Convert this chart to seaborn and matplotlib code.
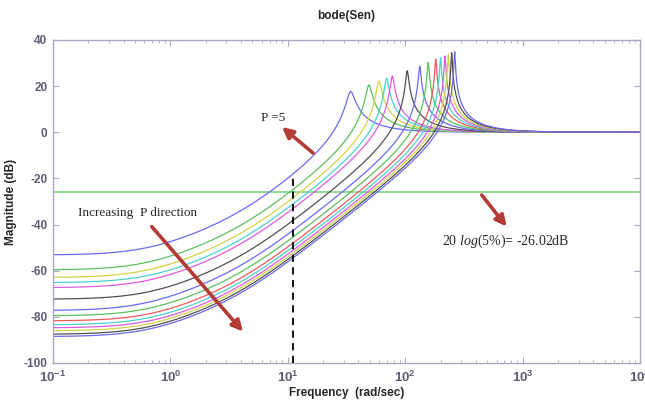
import numpy as np
import pandas as pd
import matplotlib
matplotlib.use("Agg")
import matplotlib.pyplot as plt
import seaborn as sns

# ---- data ----
peak_freq = [34.2, 49.0, 59.7, 69.4, 77.6, 104.0, 133.0, 157.0, 182.0, 200.0, 218.0, 233.0, 249.0, 264.0]
peak_db = [17.6, 20.5, 22.2, 23.4, 24.4, 26.7, 28.7, 30.3, 31.8, 32.5, 33.1, 33.8, 34.5, 34.9]
floor_db = [-53.2, -59.7, -63.0, -65.2, -67.4, -72.4, -77.3, -79.6, -81.8, -83.5, -84.8, -86.1, -87.6, -88.6]
curve_colors = ['#6a6aee', '#5cbf5c', '#d2d24a', '#4ccfcf', '#de5ade', '#505050', '#6a6aee',
                '#5cbf5c', '#ec5a5a', '#4ccfcf', '#de5ade', '#d2d24a', '#505050', '#6a6aee']
spec_db = -26.02
dash_freq = 11.0
y_ticks = [-100, -80, -60, -40, -20, 0, 20, 40]
x_ticks = [1e-1, 1e0, 1e1, 1e2, 1e3, 1e4]
x_tick_labels = [r'$\mathbf{10^{-1}}$', r'$\mathbf{10^{0}}$', r'$\mathbf{10^{1}}$',
                 r'$\mathbf{10^{2}}$', r'$\mathbf{10^{3}}$', r'$\mathbf{10^{4}}$']

sns.set_style("ticks")
plt.rcParams['font.family'] = ['Liberation Sans', 'DejaVu Sans']
plt.rcParams['mathtext.fontset'] = 'custom'
plt.rcParams['mathtext.bf'] = 'Liberation Sans:bold'
plt.rcParams['mathtext.rm'] = 'Liberation Serif'
plt.rcParams['mathtext.it'] = 'Liberation Serif:italic'

# second-order sensitivity shape built from the read-off floor / peak values
w = np.union1d(np.logspace(-1, 4, 8000), peak_freq)
a_num = 4.75


def sens_db(wv, wn, pk, fl):
    b = 10 ** (fl / 20) * wn ** 2
    s = 1j * wv
    num = s ** 2 + a_num * s + b
    nwn = abs((1j * wn) ** 2 + a_num * 1j * wn + b)
    zeta = nwn / (2 * wn ** 2 * 10 ** (pk / 20))
    den = s ** 2 + 2 * zeta * wn * s + wn ** 2
    return 20 * np.log10(np.abs(num / den))


frames = []
for i, (wn, pk, fl) in enumerate(zip(peak_freq, peak_db, floor_db)):
    frames.append(pd.DataFrame({'w': w, 'db': sens_db(w, wn, pk, fl), 'curve': i}))
df = pd.concat(frames, ignore_index=True)

fig = plt.figure(figsize=(6.45, 4.01), dpi=100)
ax = fig.add_axes([0.0822, 0.0948, 0.910, 0.8055])

ax.axhline(spec_db, color='#7fd67f', lw=1.2, zorder=1)

sns.lineplot(data=df, x='w', y='db', hue='curve', palette=curve_colors,
             estimator=None, sort=False, legend=False, lw=0.9, ax=ax, zorder=2)

top_at_dash = sens_db(np.array([dash_freq]), peak_freq[0], peak_db[0], floor_db[0])[0]
ax.vlines(dash_freq, -100, top_at_dash - 1.5, colors='black', linestyles=(0, (4, 3)), lw=1.3, zorder=3)

ax.set_xscale('log')
ax.set_xlim(1e-1, 1e4)
ax.set_ylim(-100, 40)
ax.set_yticks(y_ticks)
ax.set_yticklabels([str(v) for v in y_ticks])
ax.set_xticks(x_ticks)
ax.set_xticklabels(x_tick_labels)

spine_c = '#a9a9c4'
label_c = '#5c5c72'
for sp in ax.spines.values():
    sp.set_color(spine_c)
    sp.set_linewidth(1.0)
    sp.set_visible(True)
ax.tick_params(which='both', direction='in', top=True, right=True, color=spine_c,
               labelcolor=label_c)
ax.tick_params(which='major', length=4, labelsize=8.5, pad=4)
ax.tick_params(axis='x', which='major', labelsize=9.5, pad=5)
ax.tick_params(which='minor', length=2.5)
for lab in ax.get_yticklabels():
    lab.set_fontweight('bold')

ax.set_xlabel('Frequency  (rad/sec)', fontsize=8.5, fontweight='bold', labelpad=1)
ax.set_ylabel('Magnitude (dB)', fontsize=8.5, fontweight='bold', labelpad=5)
ax.set_title('bode(Sen)', fontsize=8.5, fontweight='bold', pad=15)

arrow_c = '#b23b36'
aprops = dict(arrowstyle='-|>', color=arrow_c, lw=2.6, mutation_scale=16, shrinkA=0, shrinkB=0)
ax.annotate('', xy=(8.93, 2.3), xytext=(16.4, -9.0), arrowprops=aprops, zorder=5)
ax.text(7.48, 6.2, 'P =5', family='Liberation Serif', fontsize=9.5, ha='center', va='center')

ax.annotate('', xy=(4.15, -86.4), xytext=(0.694, -40.9), arrowprops=aprops, zorder=5)
ax.text(0.53, -35.0, 'Increasing  P direction', family='Liberation Serif', fontsize=9.5,
        ha='center', va='center')

ax.annotate('', xy=(731, -40.9), xytext=(449, -27.2), arrowprops=aprops, zorder=5)
ax.text(723, -47.4, r'20 $log$(5%)= -26.02dB', family='Liberation Serif', fontsize=10,
        ha='center', va='center')

fig.savefig('out.png', dpi=100)
